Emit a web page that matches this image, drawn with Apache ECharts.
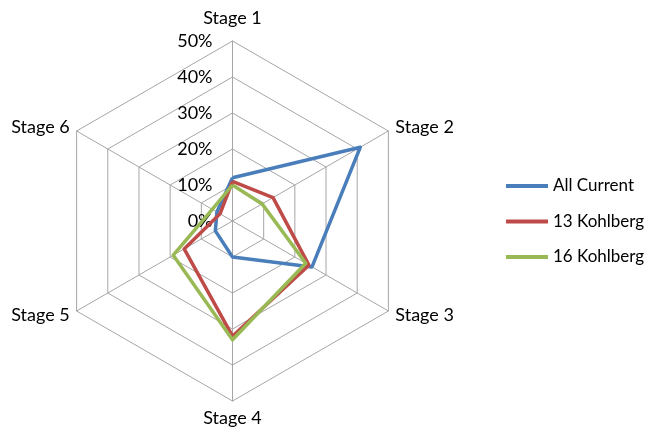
<!DOCTYPE html>
<html>
<head>
<meta charset="utf-8">
<script src="https://cdn.jsdelivr.net/npm/echarts@6/dist/echarts.min.js"></script>
<style>
html,body{margin:0;padding:0;background:#fff;}
#chart{width:645px;height:430px;}
</style>
</head>
<body>
<div id="chart"></div>
<script>
const stages = ['Stage 1', 'Stage 2', 'Stage 3', 'Stage 4', 'Stage 5', 'Stage 6'];
const seriesNames = ['All Current', '13 Kohlberg', '16 Kohlberg'];
const allCurrent = [12, 41, 25.5, 10, 5.5, 5];
const kohlberg13 = [11, 13, 24.5, 32, 15.5, 4];
const kohlberg16 = [10, 9.5, 23.5, 33, 19, 6.5];
const axisMax = 50;
const colors = ['#4A7EBB', '#BE4B48', '#98B954'];

// ECharts lays radar indicators out counter-clockwise; reorder so stages run clockwise.
const order = [0, 5, 4, 3, 2, 1];
const reorder = function (arr) { return order.map(function (i) { return arr[i]; }); };

const chart = echarts.init(document.getElementById('chart'));
const font = 'Lato, "Open Sans", sans-serif';
chart.setOption({
  animation: false,
  color: colors,
  legend: {
    orient: 'vertical',
    left: 501,
    top: 171,
    itemWidth: 42,
    itemHeight: 4,
    itemGap: 15.5,
    icon: 'rect',
    textStyle: { color: '#000', fontFamily: font, fontSize: 17, lineHeight: 20 },
    data: seriesNames
  },
  radar: {
    center: [232.5, 221],
    radius: 180,
    shape: 'polygon',
    startAngle: 90,
    splitNumber: 5,
    nameGap: 8,
    axisName: {
      color: '#000',
      fontFamily: font,
      fontSize: 18,
      formatter: function (name) { return name === stages[0] ? '{t|' + name + '}' : name; },
      rich: { t: { padding: [0, 0, 6, 0] } }
    },
    splitLine: { lineStyle: { color: '#A6A6A6', width: 1 } },
    splitArea: { show: false },
    axisLine: { lineStyle: { color: '#A6A6A6', width: 1 } },
    axisLabel: { show: false, formatter: '{value}%', margin: 20, color: '#000', fontFamily: font, fontSize: 18 },
    indicator: reorder(stages).map(function (s, i) {
      const ind = { name: s, min: 0, max: axisMax };
      if (i === 0) ind.axisLabel = { show: true };
      return ind;
    })
  },
  series: [{
    type: 'radar',
    symbol: 'none',
    lineStyle: { width: 3.5 },
    data: [
      { name: seriesNames[0], value: reorder(allCurrent), lineStyle: { color: colors[0], width: 3.5 } },
      { name: seriesNames[1], value: reorder(kohlberg13), lineStyle: { color: colors[1], width: 3.5 } },
      { name: seriesNames[2], value: reorder(kohlberg16), lineStyle: { color: colors[2], width: 3.5 } }
    ]
  }]
});
</script>
</body>
</html>
